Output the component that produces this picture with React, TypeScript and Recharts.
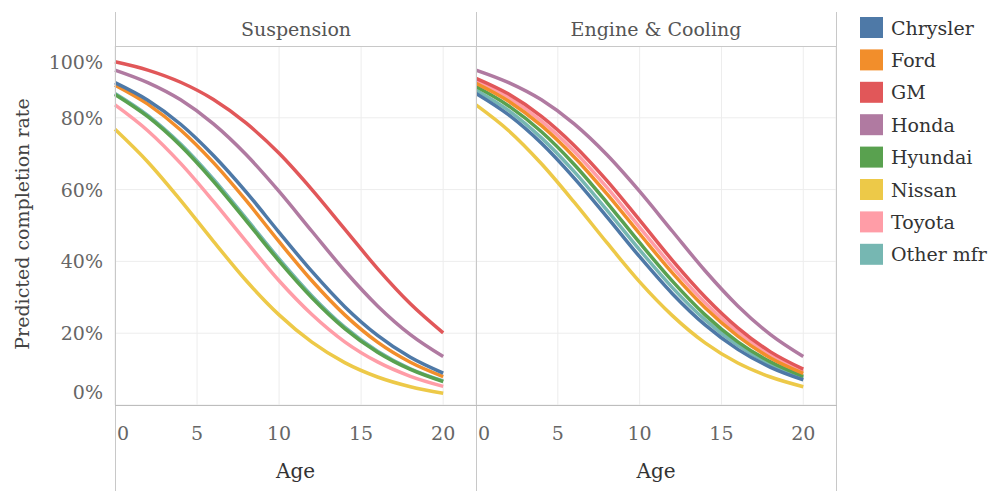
import { LineChart, Line, XAxis, YAxis, CartesianGrid } from 'recharts'

const FONT = '"DejaVu Serif", "Liberation Serif", serif'

const AGES = [0, 2, 4, 6, 8, 10, 12, 14, 16, 18, 20]
const PANELS = ['Suspension', 'Engine & Cooling']
const MAKERS = ['Chrysler', 'Ford', 'GM', 'Honda', 'Hyundai', 'Nissan', 'Toyota', 'Other mfr']
const COLORS = ['#4e79a7', '#f28e2b', '#e15759', '#b07aa1', '#59a14f', '#edc948', '#ff9da7', '#76b7b2']
const X_TICKS = [0, 5, 10, 15, 20]
const Y_TICKS = [0, 20, 40, 60, 80, 100]

// Suspension, predicted completion rate (%) by age
const SUSP_CHRYSLER = [89.8, 84.9, 78.2, 69.5, 59.3, 48.1, 37.2, 27.4, 19.4, 13.3, 8.9]
const SUSP_FORD = [89.1, 83.8, 76.6, 67.5, 56.9, 45.5, 34.6, 25.1, 17.5, 11.9, 7.9]
const SUSP_GM = [95.6, 93.3, 89.9, 85.1, 78.5, 70.1, 60.0, 49.0, 38.0, 28.2, 20.1]
const SUSP_HONDA = [93.3, 89.8, 85.0, 78.3, 69.7, 59.5, 48.4, 37.4, 27.6, 19.6, 13.5]
const SUSP_HYUNDAI = [86.5, 80.3, 72.2, 62.3, 51.3, 40.1, 29.9, 21.3, 14.7, 9.9, 6.5]
const SUSP_NISSAN = [76.8, 67.7, 57.0, 45.6, 34.6, 25.1, 17.5, 11.8, 7.8, 5.1, 3.3]
const SUSP_TOYOTA = [83.6, 76.4, 67.3, 56.7, 45.5, 34.6, 25.2, 17.6, 12.0, 8.0, 5.2]
const SUSP_OTHER = [86.8, 80.7, 72.7, 62.9, 51.9, 40.7, 30.4, 21.7, 15.0, 10.1, 6.7]

// Engine & Cooling
const ENG_CHRYSLER = [86.8, 80.8, 72.9, 63.2, 52.4, 41.3, 31.0, 22.3, 15.5, 10.5, 7.0]
const ENG_FORD = [89.6, 84.6, 77.8, 69.1, 58.8, 47.7, 36.8, 27.1, 19.2, 13.1, 8.8]
const ENG_GM = [91.0, 86.6, 80.4, 72.3, 62.5, 51.5, 40.3, 30.1, 21.5, 14.8, 10.0]
const ENG_HONDA = [93.3, 89.8, 85.0, 78.3, 69.7, 59.5, 48.4, 37.4, 27.6, 19.6, 13.5]
const ENG_HYUNDAI = [88.7, 83.3, 76.1, 67.0, 56.4, 45.2, 34.5, 25.1, 17.6, 12.0, 8.0]
const ENG_NISSAN = [83.6, 76.4, 67.2, 56.5, 45.2, 34.3, 24.9, 17.3, 11.7, 7.8, 5.1]
const ENG_TOYOTA = [90.3, 85.6, 79.1, 70.7, 60.6, 49.5, 38.5, 28.5, 20.3, 14.0, 9.4]
const ENG_OTHER = [87.7, 82.0, 74.4, 65.0, 54.3, 43.2, 32.7, 23.7, 16.6, 11.3, 7.5]

const SUSPENSION = [SUSP_CHRYSLER, SUSP_FORD, SUSP_GM, SUSP_HONDA, SUSP_HYUNDAI, SUSP_NISSAN, SUSP_TOYOTA, SUSP_OTHER]
const ENGINE = [ENG_CHRYSLER, ENG_FORD, ENG_GM, ENG_HONDA, ENG_HYUNDAI, ENG_NISSAN, ENG_TOYOTA, ENG_OTHER]

function toRows(series: number[][]) {
  return AGES.map((age, i) => {
    const row: Record<string, number> = { age }
    MAKERS.forEach((m, j) => { row[m] = series[j][i] })
    return row
  })
}

const YTick = ({ x, y, payload }: any) => {
  const v = payload.value
  // the end labels sit a little inside the plot, as in the original
  const shift = v === 100 ? 16 : v === 0 ? -13 : 0
  return (
    <text x={x - 4} y={y + shift} textAnchor="end" dominantBaseline="central"
      fill="#666" fontSize={19} fontFamily={FONT}>
      {v}%
    </text>
  )
}

const XTick = ({ x, y, payload }: any) => {
  const v = payload.value
  return (
    <text x={v === 0 ? x + 2 : x} y={y + 20} textAnchor={v === 0 ? 'start' : 'middle'}
      dominantBaseline="central" fill="#666" fontSize={19} fontFamily={FONT}>
      {v}
    </text>
  )
}

// draw order: last in legend first, so Chrysler ends up on top
const DRAW_ORDER = MAKERS.map((_, i) => i).reverse()

function Panel({ series, withYAxis }: { series: number[][]; withYAxis: boolean }) {
  const data = toRows(series)
  return (
    <LineChart width={withYAxis ? 476 : 360} height={445} data={data}
      margin={{ top: 0, right: 0, bottom: 0, left: 0 }}>
      <CartesianGrid stroke="#ededed" strokeWidth={1} />
      <XAxis type="number" dataKey="age" domain={[0, 22]} ticks={X_TICKS} height={86} interval={0}
        axisLine={false} tickLine={false} tick={<XTick />}
        label={{ value: 'Age', position: 'insideBottom', offset: 13, fill: '#333', fontSize: 20, fontFamily: FONT }} />
      <YAxis type="number" domain={[0, 100]} ticks={Y_TICKS} width={115} hide={!withYAxis} interval={0}
        axisLine={false} tickLine={false} tick={<YTick />} />
      {DRAW_ORDER.map((j) => (
        <Line key={MAKERS[j]} type="monotone" dataKey={MAKERS[j]} stroke={COLORS[j]}
          strokeWidth={3.5} dot={false} isAnimationActive={false} />
      ))}
    </LineChart>
  )
}

export default function App() {
  return (
    <div style={{ position: 'absolute', left: 0, top: 0, width: 993, height: 491, background: '#fff', fontFamily: FONT }}>
      <div style={{ position: 'absolute', left: 0, top: 46 }}>
        <Panel series={SUSPENSION} withYAxis />
      </div>
      <div style={{ position: 'absolute', left: 476, top: 46 }}>
        <Panel series={ENGINE} withYAxis={false} />
      </div>
      <svg width={993} height={491} style={{ position: 'absolute', left: 0, top: 0, pointerEvents: 'none' }}>
        <line x1={115.5} y1={12} x2={115.5} y2={491} stroke="#c8c8c8" />
        <line x1={476.5} y1={12} x2={476.5} y2={491} stroke="#c8c8c8" />
        <line x1={836.5} y1={12} x2={836.5} y2={491} stroke="#c8c8c8" />
        <line x1={115} y1={46.5} x2={837} y2={46.5} stroke="#c8c8c8" />
        <line x1={115} y1={405.5} x2={837} y2={405.5} stroke="#bdbdbd" />
        <text x={296} y={29} textAnchor="middle" dominantBaseline="central" fill="#555" fontSize={19} fontFamily={FONT}>{PANELS[0]}</text>
        <text x={656} y={29} textAnchor="middle" dominantBaseline="central" fill="#555" fontSize={19} fontFamily={FONT}>{PANELS[1]}</text>
        <text transform="translate(22,224) rotate(-90)" textAnchor="middle" dominantBaseline="central"
          fill="#444" fontSize={19} fontFamily={FONT}>Predicted completion rate</text>
        {MAKERS.map((m, i) => (
          <g key={m}>
            <rect x={860} y={17 + i * 32.4} width={23} height={21} fill={COLORS[i]} />
            <text x={891} y={27.5 + i * 32.4} dominantBaseline="central" fill="#333" fontSize={19} fontFamily={FONT}>{m}</text>
          </g>
        ))}
      </svg>
    </div>
  )
}
